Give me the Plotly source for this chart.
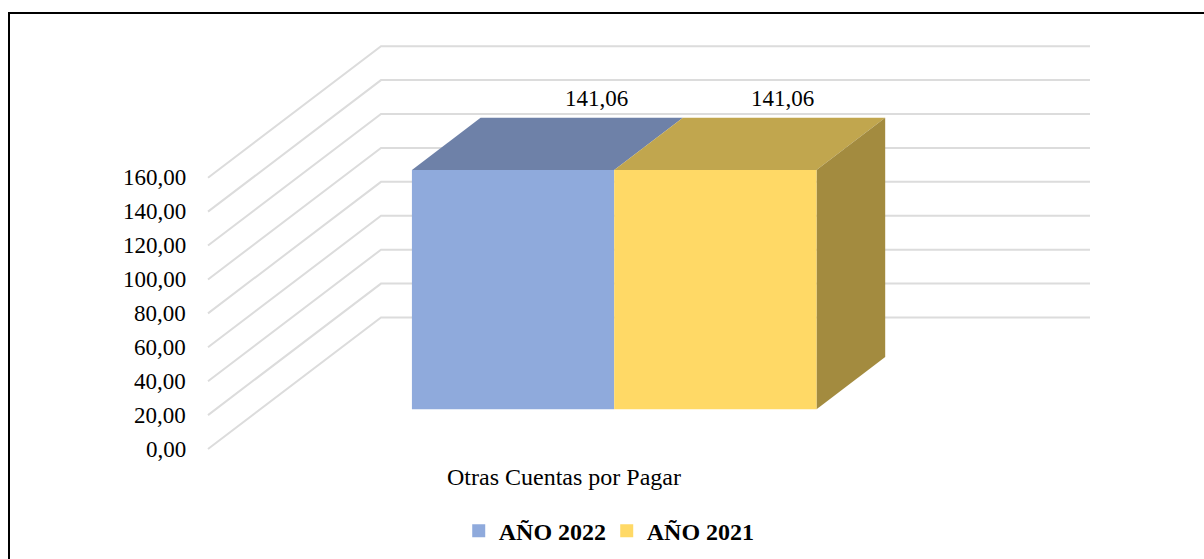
import plotly.graph_objects as go

# --- data ---
category = "Otras Cuentas por Pagar"
series_names = ["AÑO 2022", "AÑO 2021"]
series_values = [141.06, 141.06]
value_labels = ["141,06", "141,06"]
tick_values = [0, 20, 40, 60, 80, 100, 120, 140, 160]
tick_labels = ["0,00", "20,00", "40,00", "60,00", "80,00", "100,00", "120,00", "140,00", "160,00"]
front_colors = ["#8faadc", "#ffd966"]
top_colors = ["#6e81a8", "#c1a64e"]
side_color = "#a38b3f"
grid_color = "#dcdcdc"
FONT = "Liberation Serif"

# --- oblique projection of the 3D chart box onto the page ---
ORIGIN_X, ORIGIN_Y = 208.0, 449.0   # front-left floor corner
PX_PER_UNIT = (449.0 - 177.7) / 160
DEPTH_X, DEPTH_Y = 173.0, -131.5    # offset of the full box depth
WALL_WIDTH = 709.0
BAR_START, BAR_WIDTH = 151.5, 202.3  # bars, in px along the category direction
DEPTH_NEAR, DEPTH_FAR = 0.303, 0.70
LABEL_SHIFTS = [-86, -103]           # label offset from the bar's back-right corner


def project(u, value, depth):
    return (ORIGIN_X + u + DEPTH_X * depth,
            ORIGIN_Y - value * PX_PER_UNIT + DEPTH_Y * depth)


def poly(points, color):
    xs, ys = zip(*[project(*p) for p in points])
    return go.Scatter(x=list(xs) + [xs[0]], y=list(ys) + [ys[0]], mode="lines", fill="toself",
                      fillcolor=color, line=dict(color=color, width=0),
                      showlegend=False, hoverinfo="skip")


fig = go.Figure()

# gridlines: floor/side wall then back wall
for v in tick_values:
    xs, ys = zip(project(0, v, 0), project(0, v, 1), project(WALL_WIDTH, v, 1))
    fig.add_trace(go.Scatter(x=xs, y=ys, mode="lines", line=dict(color=grid_color, width=2),
                             showlegend=False, hoverinfo="skip"))

# bars
annotations = []
for i, (name, val) in enumerate(zip(series_names, series_values)):
    u0 = BAR_START + i * BAR_WIDTH
    u1 = u0 + BAR_WIDTH
    fig.add_trace(poly([(u0, val, DEPTH_NEAR), (u1, val, DEPTH_NEAR), (u1, val, DEPTH_FAR), (u0, val, DEPTH_FAR)],
                       top_colors[i]))
    if i == len(series_values) - 1:
        fig.add_trace(poly([(u1, 0, DEPTH_NEAR), (u1, val, DEPTH_NEAR), (u1, val, DEPTH_FAR), (u1, 0, DEPTH_FAR)],
                           side_color))
    fig.add_trace(poly([(u0, 0, DEPTH_NEAR), (u1, 0, DEPTH_NEAR), (u1, val, DEPTH_NEAR), (u0, val, DEPTH_NEAR)],
                       front_colors[i]))
    lx, ly = project(u1, val, DEPTH_FAR)
    annotations.append(dict(x=lx + LABEL_SHIFTS[i], y=ly - 19, text=value_labels[i], showarrow=False,
                            xanchor="center", yanchor="middle",
                            font=dict(family=FONT, size=23, color="#000000")))

# legend entries
for name, color in zip(series_names, front_colors):
    fig.add_trace(go.Scatter(x=[None], y=[None], mode="markers", name=name,
                             marker=dict(symbol="square", size=13, color=color)))

# value axis tick labels
for v, lab in zip(tick_values, tick_labels):
    tx, ty = project(0, v, 0)
    annotations.append(dict(x=tx - 20, y=ty, text=lab, showarrow=False, xanchor="right", yanchor="middle",
                            font=dict(family=FONT, size=23, color="#000000")))

# category label
annotations.append(dict(x=563.5, y=477, text=category, showarrow=False, xanchor="center", yanchor="middle",
                        font=dict(family=FONT, size=24, color="#000000")))

fig.update_layout(
    width=1204, height=559, margin=dict(l=0, r=0, t=0, b=0),
    paper_bgcolor="#ffffff", plot_bgcolor="#ffffff",
    xaxis=dict(range=[0, 1204], visible=False, fixedrange=True),
    yaxis=dict(range=[559, 0], visible=False, fixedrange=True),
    annotations=annotations,
    showlegend=True,
    legend=dict(orientation="h", x=0.381, xanchor="left", y=0.05, yanchor="middle",
                font=dict(family=FONT, size=24, color="#000000", weight="bold"),
                itemwidth=30, entrywidth=103, entrywidthmode="pixels",
                bgcolor="rgba(0,0,0,0)", traceorder="normal"),
    shapes=[
        dict(type="line", xref="x", yref="y", x0=9, x1=9, y0=12, y1=559, line=dict(color="#000000", width=2)),
        dict(type="line", xref="x", yref="y", x0=8, x1=1204, y0=13, y1=13, line=dict(color="#000000", width=2)),
    ],
)

fig.write_html("out.html", config={"displayModeBar": False},
               post_script="document.body.style.margin='0';document.body.style.overflow='hidden';")
